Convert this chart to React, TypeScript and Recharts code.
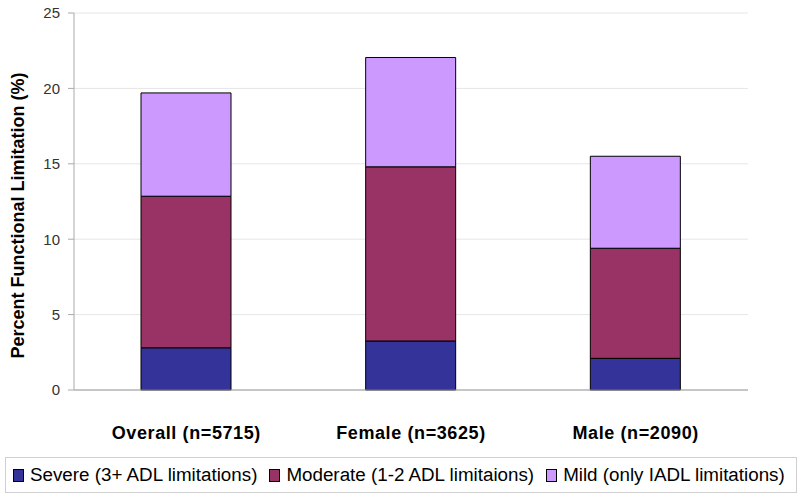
import { Bar, BarChart, CartesianGrid, XAxis, YAxis } from 'recharts'

const groups = ['Overall (n=5715)', 'Female (n=3625)', 'Male (n=2090)']
const severe = [2.8, 3.25, 2.1]
const moderate = [10.05, 11.55, 7.3]
const mild = [6.85, 7.25, 6.1]
const yTicks = [0, 5, 10, 15, 20, 25]

const series = [
  { key: 'severe', name: 'Severe (3+ ADL limitations)', color: '#333399' },
  { key: 'moderate', name: 'Moderate (1-2 ADL limitaions)', color: '#993366' },
  { key: 'mild', name: 'Mild (only IADL limitations)', color: '#CC99FF' },
]

const data = groups.map((group, i) => ({
  group,
  severe: severe[i],
  moderate: moderate[i],
  mild: mild[i],
}))

const font = 'Arial, "Liberation Sans", sans-serif'

// y title sits a bit below the plot's middle in the original
function YTitle(props: any) {
  const vb = props.viewBox || { x: 0, y: 0, width: 0, height: 0 }
  const cx = 18
  const cy = vb.y + vb.height / 2 + 14
  return (
    <text
      x={cx}
      y={cy}
      transform={`rotate(-90, ${cx}, ${cy})`}
      textAnchor="middle"
      dominantBaseline="central"
      style={{ fontSize: 18, fontWeight: 'bold', fill: '#000', fontFamily: font }}
    >
      Percent Functional Limitation (%)
    </text>
  )
}

export default function App() {
  return (
    <div style={{ position: 'absolute', left: 0, top: 0, width: 800, height: 498, background: '#fff', fontFamily: font }}>
      <BarChart
        width={800}
        height={498}
        data={data}
        margin={{ top: 13, right: 52, bottom: 58, left: 0 }}
        barSize={90}
      >
        <CartesianGrid stroke="#e6e6e6" vertical={false} />
        <XAxis
          dataKey="group"
          height={50}
          tickLine={false}
          axisLine={{ stroke: '#999' }}
          tickMargin={30}
          tick={{ fill: '#000', fontSize: 18, fontWeight: 'bold', letterSpacing: 0.6, fontFamily: font }}
        />
        <YAxis
          width={74}
          domain={[0, 25]}
          ticks={yTicks}
          interval={0}
          tickSize={6}
          tickMargin={8}
          tickLine={{ stroke: '#aaa' }}
          axisLine={{ stroke: '#aaa' }}
          tick={{ fill: '#333', fontSize: 15, fontFamily: font }}
          label={{ content: (p: any) => <YTitle {...p} /> }}
        />
        <YAxis yAxisId="frame" orientation="right" width={0} tick={false} tickLine={false} axisLine={{ stroke: '#e6e6e6' }} />
        {series.map((s) => (
          <Bar
            key={s.key}
            dataKey={s.key}
            name={s.name}
            stackId="a"
            fill={s.color}
            stroke="#000"
            strokeWidth={1}
            isAnimationActive={false}
          />
        ))}
      </BarChart>
      <div
        style={{
          position: 'absolute',
          left: 5,
          top: 457,
          width: 792,
          height: 36,
          border: '1px solid #d0d0d0',
          display: 'flex',
          alignItems: 'center',
          fontSize: 18.8,
          color: '#000',
          boxSizing: 'border-box',
          whiteSpace: 'nowrap',
          paddingLeft: 7,
          overflow: 'hidden',
        }}
      >
        {series.map((s) => (
          <div key={s.key} style={{ display: 'flex', alignItems: 'center', marginRight: 12 }}>
            <span
              style={{
                display: 'inline-block',
                width: 9,
                height: 11,
                background: s.color,
                border: '1px solid #000',
                marginRight: 6,
              }}
            />
            <span>{s.name}</span>
          </div>
        ))}
      </div>
    </div>
  )
}
